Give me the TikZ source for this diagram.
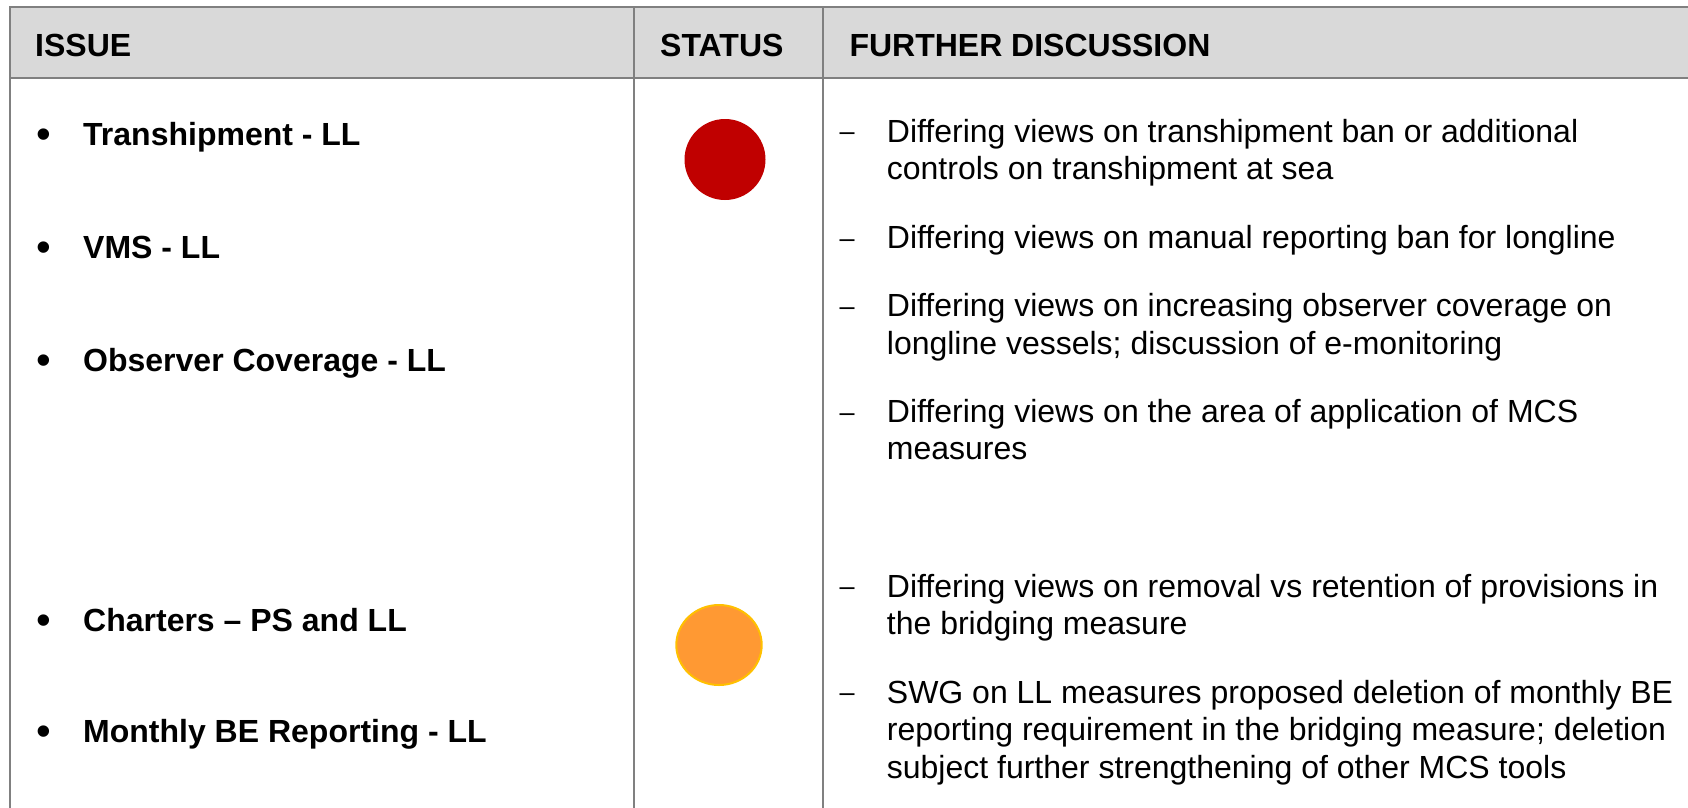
\documentclass[tikz,border=0pt]{standalone}
\usepackage{fontspec}
\setmainfont{Liberation Sans}
\usepackage{tikz}
\usetikzlibrary{shapes.geometric}

\definecolor{hdrgray}{HTML}{D9D9D9}
\definecolor{rulegray}{HTML}{808080}
\definecolor{statred}{HTML}{C00000}
\definecolor{statorange}{HTML}{FF9933}
\definecolor{statrim}{HTML}{FFC000}

\begin{document}
\begin{tikzpicture}[x=1pt,y=-1pt,
    every node/.style={inner sep=0pt,font=\fontsize{32}{37.4}\selectfont},
    head/.style={anchor=base west,font=\fontsize{32}{37.4}\selectfont\bfseries},
    issue/.style={anchor=base west,font=\fontsize{32}{37.4}\selectfont\bfseries},
    dot/.style={anchor=base,font=\fontsize{42}{48}\selectfont},
    dashmark/.style={anchor=base,font=\fontsize{27}{32}\selectfont},
    disc/.style={anchor=base west},
    rule/.style={draw=rulegray,line width=2pt}]
    \useasboundingbox (0,0) rectangle (1688,807);
    \clip (0,0) rectangle (1688,807);
    % header band and table rules
    \fill[hdrgray] (9.7,7.3) rectangle (1700,77.7);
    \draw[rule] (1700,7.3) -- (9.7,7.3) -- (9.7,820);
    \draw[rule] (9.7,77.7) -- (1700,77.7);
    \draw[rule] (633.7,7.3) -- (633.7,820);
    \draw[rule] (822.7,7.3) -- (822.7,820);
    \node[head] (hIssue) at (35,56.3) {ISSUE};
    \node[head] (hStatus) at (660,56.3) {STATUS};
    \node[head] (hDisc) at (849.3,56.3) {FURTHER DISCUSSION};
    % issues
    \foreach \y/\txt [count=\i] in {145.7/Transhipment - LL, 258/VMS - LL,
        371.3/Observer Coverage - LL, 631.4/Charters – PS and LL,
        742/Monthly BE Reporting - LL} {
      \node[dot] (dot\i) at (44,\y+3) {•};
      \node[issue] (issue\i) at (83,\y) {\txt};
    }
    % status
    \node[circle,fill=statred,minimum size=81pt] (stRed) at (725,159.5) {};
    \node[ellipse,fill=statorange,draw=statrim,line width=2pt,
      minimum width=85.4pt,minimum height=80pt] (stOrange) at (719,645) {};
    % further discussion
    \foreach \y [count=\i] in {142.3,248.7,316.9,422.4,597.3,703.3}
      \node[dashmark] (dash\i) at (847,\y-1.4) {–};
    \foreach \y/\txt [count=\i] in {
        142.3/Differing views on transhipment ban or additional,
        179.7/controls on transhipment at sea,
        248.7/Differing views on manual reporting ban for longline,
        316.9/Differing views on increasing observer coverage on,
        354.3/longline vessels; discussion of e-monitoring,
        422.4/Differing views on the area of application of MCS,
        459.8/measures,
        597.3/Differing views on removal vs retention of provisions in,
        634.7/the bridging measure,
        703.3/SWG on LL measures proposed deletion of monthly BE,
        740.7/reporting requirement in the bridging measure; deletion,
        778.1/subject further strengthening of other MCS tools}
      \node[disc] (line\i) at (886.7,\y) {\txt};
\end{tikzpicture}
\end{document}
